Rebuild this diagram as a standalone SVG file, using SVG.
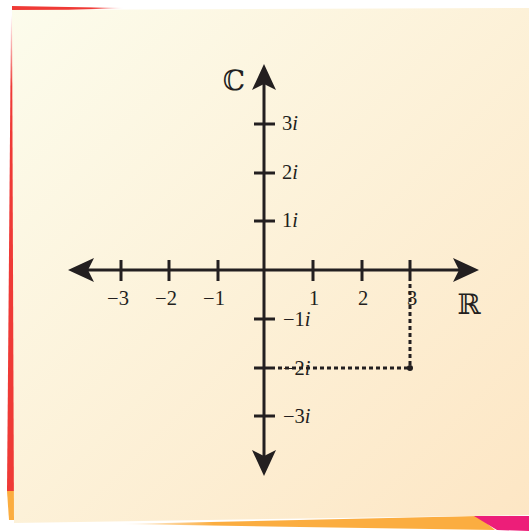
<svg xmlns="http://www.w3.org/2000/svg" width="529" height="531" viewBox="0 0 529 531">
<defs>
<linearGradient id="paper" x1="0" y1="0" x2="1" y2="1">
<stop offset="0" stop-color="#fcfcec"/>
<stop offset="1" stop-color="#fde6c4"/>
</linearGradient>
<linearGradient id="topred" x1="0" y1="0" x2="1" y2="0">
<stop offset="0" stop-color="#ef3a36"/>
<stop offset="0.7" stop-color="#ef3a36"/>
<stop offset="1" stop-color="#ef3a36" stop-opacity="0"/>
</linearGradient>
<linearGradient id="leftred" x1="0" y1="0" x2="0" y2="1">
<stop offset="0" stop-color="#ef3a36" stop-opacity="0"/>
<stop offset="0.15" stop-color="#ef3a36"/>
<stop offset="1" stop-color="#ef3a36"/>
</linearGradient>
<linearGradient id="botor" x1="0" y1="0" x2="1" y2="0">
<stop offset="0" stop-color="#fbad40" stop-opacity="0"/>
<stop offset="0.25" stop-color="#fbad40"/>
<stop offset="1" stop-color="#fbad40"/>
</linearGradient>
<style>
.ax{stroke:#231f20;stroke-width:3;fill:none}
.tk{stroke:#231f20;stroke-width:3}
.ah{fill:#231f20}
.dot{stroke:#231f20;stroke-width:3;stroke-dasharray:4 3;fill:none}
.lb{font-family:"Liberation Serif","DejaVu Serif",serif;font-size:20.5px;fill:#231f20}
.bb{font-family:"DejaVu Serif","DejaVu Sans",serif;font-size:28px;fill:#231f20}
</style>
</defs>
<g id="background">
<polygon points="12,6 125,8 12,12" fill="url(#topred)"/>
<polygon points="11,15 14,15 14,491 7,491" fill="url(#leftred)"/>
<polygon points="7,491 14,491 14,520 9,520" fill="#fbad40"/>
<polygon points="120,524 478,516 495,530 300,527" fill="url(#botor)"/>
<polygon points="474,516 529,516 529,531 497,530" fill="#ed1e79"/>
<polygon points="12,10 529,8 529,515 474,516 14,523" fill="url(#paper)"/>
</g>
<g id="connectors">
<line class="ax" x1="80" y1="270" x2="468" y2="270"/>
<line class="ax" x1="264" y1="76" x2="264" y2="464"/>
<polygon class="ah" points="68,270 94,258 88,270 94,282"/>
<polygon class="ah" points="479,270 453,258 459,270 453,282"/>
<polygon class="ah" points="264,64 252,90 264,84 276,90"/>
<polygon class="ah" points="264,476 252,450 264,456 276,450"/>
<line class="dot" x1="410" y1="284" x2="410" y2="368"/>
<line class="dot" x1="278" y1="368" x2="410" y2="368"/>
<circle cx="410" cy="368" r="3" fill="#231f20"/>
</g>
<g id="ticks">
<line class="tk" x1="121" y1="260" x2="121" y2="281"/>
<line class="tk" x1="169" y1="260" x2="169" y2="281"/>
<line class="tk" x1="218" y1="260" x2="218" y2="281"/>
<line class="tk" x1="313" y1="260" x2="313" y2="281"/>
<line class="tk" x1="362" y1="260" x2="362" y2="281"/>
<line class="tk" x1="410" y1="260" x2="410" y2="281"/>
<line class="tk" x1="254" y1="124" x2="275" y2="124"/>
<line class="tk" x1="254" y1="173" x2="275" y2="173"/>
<line class="tk" x1="254" y1="221" x2="275" y2="221"/>
<line class="tk" x1="254" y1="319" x2="275" y2="319"/>
<line class="tk" x1="254" y1="368" x2="275" y2="368"/>
<line class="tk" x1="254" y1="416" x2="275" y2="416"/>
</g>
<g id="labels">
<text class="lb" x="118" y="305" text-anchor="middle">−3</text>
<text class="lb" x="166" y="305" text-anchor="middle">−2</text>
<text class="lb" x="214" y="305" text-anchor="middle">−1</text>
<text class="lb" x="314" y="305" text-anchor="middle">1</text>
<text class="lb" x="363" y="305" text-anchor="middle">2</text>
<text class="lb" x="412" y="305" text-anchor="middle">3</text>
<text class="lb" x="282" y="130">3<tspan font-style="italic">i</tspan></text>
<text class="lb" x="282" y="179">2<tspan font-style="italic">i</tspan></text>
<text class="lb" x="282" y="227">1<tspan font-style="italic">i</tspan></text>
<text class="lb" x="283" y="326">−1<tspan font-style="italic">i</tspan></text>
<text class="lb" x="283" y="375">−2<tspan font-style="italic">i</tspan></text>
<text class="lb" x="283" y="423">−3<tspan font-style="italic">i</tspan></text>
<text class="bb" x="234" y="90" text-anchor="middle">ℂ</text>
<text class="bb" x="469" y="314" text-anchor="middle">ℝ</text>
</g>
</svg>
